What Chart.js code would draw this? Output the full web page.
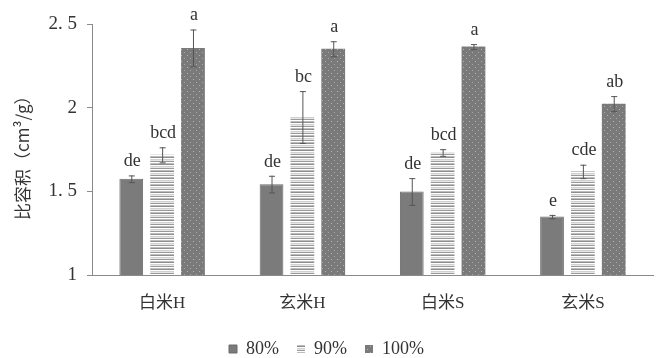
<!DOCTYPE html>
<html>
<head>
<meta charset="utf-8">
<script src="https://cdn.jsdelivr.net/npm/chart.js@4.4.0/dist/chart.umd.min.js"></script>
<style>
  html, body { margin: 0; padding: 0; background: #fff; }
  #wrap { width: 659px; height: 358px; }
</style>
</head>
<body>
<div id="wrap"><canvas id="chart" width="659" height="358"></canvas></div>
<script>
const categories = ['白米H', '玄米H', '白米S', '玄米S'];
const seriesNames = ['80%', '90%', '100%'];

const values80 = [1.575, 1.543, 1.499, 1.349];
const values90 = [1.718, 1.944, 1.732, 1.619];
const values100 = [2.357, 2.352, 2.365, 2.024];

const errors80 = [0.02, 0.05, 0.08, 0.01];
const errors90 = [0.045, 0.155, 0.02, 0.04];
const errors100 = [0.11, 0.045, 0.015, 0.045];

const letters80 = ['de', 'de', 'de', 'e'];
const letters90 = ['bcd', 'bc', 'bcd', 'cde'];
const letters100 = ['a', 'a', 'a', 'ab'];

const tickLabels = {1: '1', 1.5: '1. 5', 2: '2', 2.5: '2. 5'};

const SERIF = '"Liberation Serif", "DejaVu Serif", "Noto Sans CJK SC", serif';
const GRAY = '#7b7b7b';

// fill patterns: plain for 80%, horizontal stripes for 90%, dots for 100%
const makePattern = (w, h, draw) => {
  const c = document.createElement('canvas');
  c.width = w; c.height = h;
  draw(c.getContext('2d'));
  return c.getContext('2d').createPattern(c, 'repeat');
};

const stripes = makePattern(1, 7, (ctx) => {
  ctx.fillStyle = '#ffffff'; ctx.fillRect(0, 0, 1, 7);
  ctx.fillStyle = '#9a9a9a'; ctx.fillRect(0, 0, 1, 1);
  ctx.fillStyle = '#bdbdbd'; ctx.fillRect(0, 2, 1, 1);
  ctx.fillStyle = '#8e8e8e'; ctx.fillRect(0, 3, 1, 1);
  ctx.fillStyle = '#d0d0d0'; ctx.fillRect(0, 5, 1, 1);
  ctx.fillStyle = '#e6e6e6'; ctx.fillRect(0, 6, 1, 1);
});

const dots = makePattern(6, 6, (ctx) => {
  ctx.fillStyle = '#7a7a7a'; ctx.fillRect(0, 0, 6, 6);
  ctx.fillStyle = '#b4b4b4'; ctx.fillRect(1, 1, 1, 1);
  ctx.fillStyle = '#a8a8a8'; ctx.fillRect(4, 4, 1, 1);
});

const errorBarPlugin = {
  id: 'errorBars',
  afterDatasetsDraw(chart) {
    const ctx = chart.ctx;
    const y = chart.scales.y;
    const errs = [errors80, errors90, errors100];
    const lets = [letters80, letters90, letters100];
    ctx.save();
    chart.data.datasets.forEach((ds, i) => {
      const meta = chart.getDatasetMeta(i);
      meta.data.forEach((bar, j) => {
        const v = ds.data[j];
        const hi = y.getPixelForValue(v + errs[i][j]);
        const lo = y.getPixelForValue(v - errs[i][j]);
        const x = bar.x;
        ctx.strokeStyle = '#555';
        ctx.lineWidth = 1;
        ctx.beginPath();
        ctx.moveTo(x + 0.5, hi); ctx.lineTo(x + 0.5, lo);
        ctx.moveTo(x - 2.5, hi + 0.5); ctx.lineTo(x + 3.5, hi + 0.5);
        ctx.moveTo(x - 2.5, lo + 0.5); ctx.lineTo(x + 3.5, lo + 0.5);
        ctx.stroke();
        ctx.fillStyle = '#333';
        ctx.font = '18px ' + SERIF;
        ctx.textAlign = 'center';
        ctx.textBaseline = 'bottom';
        ctx.fillText(lets[i][j], x + 1, hi - 5);
      });
    });
    ctx.restore();
  }
};

new Chart(document.getElementById('chart'), {
  type: 'bar',
  data: {
    labels: categories,
    datasets: [
      {label: seriesNames[0], data: values80, backgroundColor: GRAY, borderColor: '#6a6a6a', borderWidth: 1},
      {label: seriesNames[1], data: values90, backgroundColor: stripes, borderWidth: 0},
      {label: seriesNames[2], data: values100, backgroundColor: dots, borderWidth: 0}
    ]
  },
  options: {
    responsive: false,
    animation: false,
    devicePixelRatio: 1,
    categoryPercentage: 0.66,
    barPercentage: 0.77,
    // negative bottom padding pushes the legend row down to the canvas edge
    layout: {padding: {top: 24, right: 6, left: 0, bottom: -10}},
    plugins: {
      legend: {
        position: 'bottom',
        labels: {
          boxWidth: 8, boxHeight: 8, padding: 18,
          color: '#333',
          font: {family: SERIF, size: 18}
        }
      },
      tooltip: {enabled: false}
    },
    scales: {
      x: {
        grid: {display: false},
        border: {color: '#8a8a8a'},
        ticks: {color: '#333', font: {family: SERIF, size: 17}, padding: 10},
        afterFit: (s) => { s.height = 47; }
      },
      y: {
        min: 1, max: 2.5,
        afterFit: (s) => { s.width = 92; },
        grid: {drawOnChartArea: false, tickLength: 5, color: '#8a8a8a'},
        border: {color: '#8a8a8a'},
        ticks: {
          stepSize: 0.5,
          padding: 10,
          color: '#333',
          font: {family: SERIF, size: 19},
          callback: (v) => tickLabels[v] ?? ''
        },
        title: {
          display: true,
          text: '比容积（cm³/g）\u3000',
          color: '#333',
          font: {family: '"Noto Sans CJK SC", serif', size: 17},
          padding: {top: 12}
        }
      }
    }
  },
  plugins: [errorBarPlugin]
});
</script>
</body>
</html>
